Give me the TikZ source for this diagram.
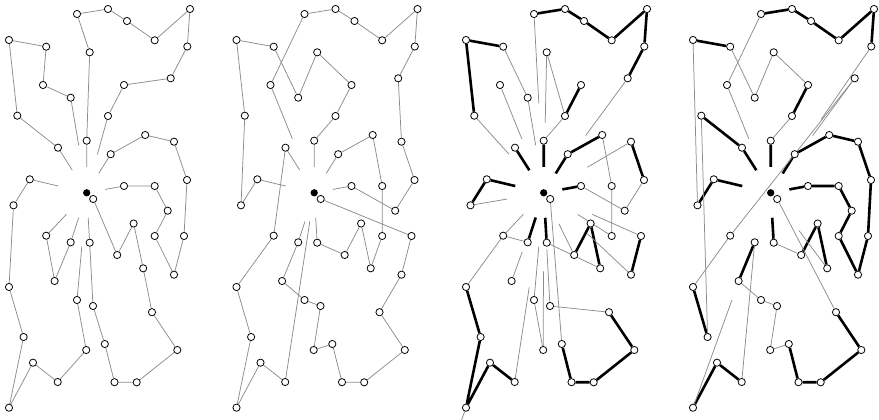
\documentclass[tikz,border=0pt]{standalone}
\usepackage{tikz}
\usetikzlibrary{calc, backgrounds}
\definecolor{routegray}{RGB}{140, 140, 140}

\newcommand{\custcoords}{1/58/147.7, 2/17.3/115.7, 3/9/40, 4/46.2/46.7, 5/43/85, 6/70.7/97.7, 7/86.7/140.7, 8/89.7/52.3, 9/77/14, 10/108/9, 11/127/21, 12/154.7/40.3, 13/190/9, 14/187.3/46.5, 15/170.7/78.3, 16/124/85, 17/108/116, 18/110.7/154.2, 19/145.2/135, 20/174/141.7, 21/187/180, 22/184/236, 23/174/274.7, 24/154.7/236, 25/167.7/210.7, 26/154.7/186, 27/124/186, 28/29.8/179.3, 29/13.5/205.3, 30/9/287, 31/23.6/337, 32/9/407.7, 33/33/362.7, 34/57.7/382, 35/86.2/350, 36/77/300, 37/93.2/199, 38/117.2/255, 39/133.6/223.5, 40/143.2/268.3, 41/152/312.2, 42/177.3/350, 43/136.7/382.3, 44/114.5/382.2, 45/104.8/344, 46/93/306, 47/89.7/242.7, 48/46.2/235.7, 49/54.6/281, 50/70.7/242.3}

\newcommand{\placecustomers}[2]{%
  \node[depot] (#1dep) at (#2+86.7, 192.8) {};
  \foreach \n/\px/\py in \custcoords
    \node[customer] (#1\n) at (#2+\px, \py) {};
}

\begin{document}
\begin{tikzpicture}[x=1pt, y=-1pt,
    customer/.style={circle, draw, fill=white, line width=0.8pt, inner sep=0pt, minimum size=7.2pt},
    depot/.style={circle, fill=black, inner sep=0pt, minimum size=7.3pt},
    thinedge/.style={routegray, line width=0.75pt},
    boldedge/.style={black, line width=2.6pt}]
    \useasboundingbox (0,0) rectangle (879,420);

    \placecustomers{A}{0}
    \placecustomers{B}{227.5}
    \placecustomers{C}{457}
    \placecustomers{D}{684}
    \coordinate (Ctail) at (461.6,420);

    \begin{scope}[on background layer]
    % first solution
    \draw[thinedge] (A1) -- (A2) -- (A3) -- (A4) -- (A5) -- (A6);
    \draw[thinedge] (A7) -- (A8) -- (A9) -- (A10) -- (A11) -- (A12) -- (A13) -- (A14) -- (A15) -- (A16) -- (A17);
    \draw[thinedge] (A18) -- (A19) -- (A20) -- (A21) -- (A22) -- (A23) -- (A24) -- (A25) -- (A26) -- (A27);
    \draw[thinedge] (A28) -- (A29) -- (A30) -- (A31) -- (A32) -- (A33) -- (A34) -- (A35) -- (A36);
    \draw[thinedge] (A37) -- (A38) -- (A39) -- (A40) -- (A41) -- (A42) -- (A43) -- (A44) -- (A45) -- (A46) -- (A47);
    \draw[thinedge] (A48) -- (A49) -- (A50);
    \foreach \s in {1,6,7,17,18,27,28,36,47,48,50}
        \draw[thinedge] (A\s) -- ($(A\s)!.5!(Adep)$);

    % second solution
    \draw[thinedge] (B5) -- (B9) -- (B10) -- (B11) -- (B12) -- (B13) -- (B14) -- (B15) -- (B20) -- (B21) -- (B25) -- (B27);
    \draw[thinedge] (B28) -- (B29) -- (B2) -- (B3) -- (B4) -- (B6) -- (B8) -- (B16) -- (B17) -- (B7);
    \draw[thinedge] (B18) -- (B19) -- (B26) -- (B24) -- (B40) -- (B39) -- (B38) -- (B47);
    \draw[thinedge] (B37) -- (B22) -- (B23) -- (B41) -- (B42) -- (B43) -- (B44) -- (B45) -- (B35) -- (B46) -- (B36) -- (B49) -- (B50);
    \draw[thinedge] (B34) -- (B33) -- (B32) -- (B31) -- (B30) -- (B48) -- (B1);
    \foreach \s in {1,5,7,18,27,28,47}
        \draw[thinedge] (B\s) -- ($(B\s)!.5!(Bdep)$);
    \draw[thinedge] (B50) -- ($(B50)!.42!(Bdep)$);
    \draw[thinedge] (B34) -- ($(B34)!.85!(Bdep)$);

    % common edges and new links
    \draw[boldedge] (C9) -- (C10) -- (C11) -- (C12) -- (C13) -- (C14) -- (C15);
    \draw[boldedge] (C2) -- (C3) -- (C4);
    \draw[boldedge] (C16) -- (C17);
    \draw[boldedge] (C18) -- (C19);
    \draw[boldedge] (C20) -- (C21);
    \draw[boldedge] (C28) -- (C29);
    \draw[boldedge] (C22) -- (C23);
    \draw[boldedge] (C30) -- (C31) -- (C32) -- (C33) -- (C34);
    \draw[boldedge] (C38) -- (C39) -- (C40);
    \draw[boldedge] (C41) -- (C42) -- (C43) -- (C44) -- (C45);
    \foreach \s in {1,7,18,27,28,47,50}
        \draw[boldedge] (C\s) -- ($(C\s)!.5!(Cdep)$);
    \draw[thinedge] (C4) -- (C6);
    \draw[thinedge] (C8) -- (C17) -- (C7);
    \draw[thinedge] (C19) -- (C26) -- (C24);
    \draw[thinedge] (C21) -- (C25) -- (C27);
    \draw[thinedge] (C45) -- (C37);
    \draw[thinedge] (C30) -- (C48) -- (C50);
    \draw[thinedge] (C36) -- (C35);
    \draw[thinedge] (C41) -- (C46);
    \draw[thinedge] (C40) -- (C47);
    \draw[thinedge] (C32) -- (Ctail);
    \foreach \s in {2,5,6,8,9,15,20,22,23,24,29,34,35,36,38,46,48}
        \draw[thinedge] (C\s) -- ($(C\s)!.5!(Cdep)$);
    \draw[thinedge] (C49) -- ($(C49)!.33!(Cdep)$);

    % offspring
    \draw[boldedge] (D9) -- (D10) -- (D11) -- (D12) -- (D13) -- (D14);
    \draw[boldedge] (D3) -- (D4);
    \draw[boldedge] (D16) -- (D17);
    \draw[boldedge] (D1) -- (D2);
    \draw[boldedge] (D28) -- (D29);
    \draw[boldedge] (D18) -- (D19) -- (D20) -- (D21) -- (D22) -- (D23) -- (D24) -- (D25) -- (D26) -- (D27);
    \draw[boldedge] (D30) -- (D31);
    \draw[boldedge] (D32) -- (D33) -- (D34);
    \draw[boldedge] (D50) -- (D49);
    \draw[boldedge] (D41) -- (D42) -- (D43) -- (D44) -- (D45);
    \draw[boldedge] (D38) -- (D39) -- (D40);
    \foreach \s in {1,7,18,27,28,47}
        \draw[boldedge] (D\s) -- ($(D\s)!.5!(Ddep)$);
    \draw[thinedge] (D5) -- (D9);
    \draw[thinedge] (D29) -- (D3);
    \draw[thinedge] (D4) -- (D6) -- (D8) -- (D16);
    \draw[thinedge] (D17) -- (D7);
    \draw[thinedge] (D2) -- (D31);
    \draw[thinedge] (D30) -- (D48) -- (D15);
    \draw[thinedge] (D34) -- (D50);
    \draw[thinedge] (D49) -- (D36) -- (D46) -- (D35) -- (D45);
    \draw[thinedge] (D41) -- (D37);
    \draw[thinedge] (D47) -- (D38);
    \foreach \s in {5,14,15,32,40}
        \draw[thinedge] (D\s) -- ($(D\s)!.5!(Ddep)$);
    \end{scope}
\end{tikzpicture}
\end{document}
